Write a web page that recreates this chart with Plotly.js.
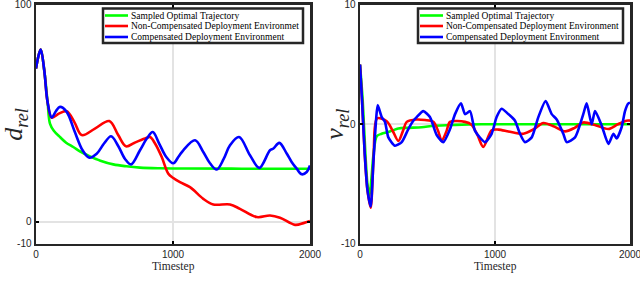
<!DOCTYPE html>
<html>
<head>
<meta charset="utf-8">
<script src="https://cdn.plot.ly/plotly-3.0.1.min.js"></script>
<style>html,body{margin:0;padding:0;background:#fff;}#chart{width:640px;height:290px;}</style>
</head>
<body>
<div id="chart"></div>
<script>
// ---------- Data: left panel (d_rel) ----------
const dOptT = [0,20,35,60,85,102,130,175,220,272,330,394,470,564,660,759,900,1100,1500,2000];
const dOptV = [70.7,77,79.5,70,55,45.3,42,39.1,36.5,34.5,32.2,30.2,28.2,26.5,25.6,25,24.7,24.6,24.5,24.5];

const dNonT = [0,20,35,60,85,115,170,224,280,334,430,535,600,657,720,796,832,870,917,966,1002,1051,1124,1221,1294,1416,1489,1611,1708,1781,1891,1952,2000];
const dNonV = [70.7,77,79.5,70,55,48,50,51,46,40,43,46.5,40,34.8,36.5,38.4,39.1,36,30,22.2,20.2,18.3,16,10.6,8,8,6,2.2,2.9,1.9,-1.4,-0.6,0.4];

const dCompT = [0,20,35,60,85,115,145,175,224,280,340,389,443,495,548,600,650,694,759,810,852,900,950,1002,1040,1075,1161,1221,1270,1319,1370,1416,1482,1562,1630,1708,1733,1776,1830,1866,1903,1940,1976,2000];
const dCompV = [70.7,77,79.5,70,55,48.1,51,53,50.7,42,33,29.6,31.4,36,39.5,35,29,26.5,33,38.5,41.4,36,30,27,30,33,37.6,32.2,27,24.1,29,35.3,39.1,30.7,24.9,33,33.8,36.4,31.5,27.6,24.5,21.9,23,26];

// ---------- Data: right panel (v_rel) ----------
const vOptT = [0,20,40,55,70,85,100,124,160,210,284,360,457,550,704,900,1200,2000];
const vOptV = [5,2,-2.5,-5,-6,-4.5,-2.5,-1.0,-0.8,-0.65,-0.35,-0.3,-0.25,-0.12,-0.05,0,0,0];

const vNonT = [0,15,35,55,79,100,128,198,240,284,320,346,420,481,543,580,605,640,667,778,827,870,913,975,1025,1100,1210,1290,1358,1440,1519,1590,1654,1750,1840,1910,1975,2000];
const vNonV = [5,2,-2.5,-5.5,-7,-3,0.5,0.25,-0.5,-1.4,-0.5,0.2,0.4,0.35,0.2,-0.6,-1.4,-0.6,0.2,0.2,-0.05,-0.9,-1.9,-0.5,-0.45,-0.6,-0.8,-0.4,0.1,-0.2,-0.6,-0.3,0.15,-0.1,-0.4,0,0.3,0.3];

const vCompT = [0,15,35,55,79,100,120,131,161,185,210,259,309,358,395,420,469,518,568,617,667,704,748,778,815,852,926,975,1012,1049,1099,1148,1185,1222,1272,1321,1375,1420,1457,1506,1531,1593,1654,1679,1716,1741,1790,1840,1877,1901,1938,1963,1988,2000];
const vCompV = [5,2,-2.5,-5.5,-6.9,-3,0.5,1.6,0.6,0.2,-1.1,-1.8,-1.5,-0.4,0.3,0.6,1.1,0.6,-0.9,-1.5,-0.4,0.85,1.75,0.85,1.1,-0.55,-1.5,-0.8,0.6,1.3,0.85,0.3,-0.8,-1.5,-1.1,0.6,1.95,0.85,0.4,-0.8,-1.5,-1.1,0.85,1.75,0.0,1.1,-0.1,-1.65,-0.8,-1.2,-0.25,1.1,1.75,1.8];

// ---------- Labels ----------
const xTicks = [0, 1000, 2000];
const dTicks = [-10, 0, 100];
const vTicks = [-10, 0, 10];
const namesLeft = ['Sampled Optimal Trajectory', 'Non-Compensated Deployment Environmet', 'Compensated Deployment Environment'];
const namesRight = ['Sampled Optimal Trajectory', 'Non-Compensated Deployment Environment', 'Compensated Deployment Environment'];
const colors = ['#00ff00', '#ff0000', '#0000ff'];
const xTitle = 'Timestep';

// ---------- Traces ----------
function tr(x, y, name, color, xa, ya, smooth) {
  return {x: x, y: y, name: name, type: 'scatter', mode: 'lines', xaxis: xa, yaxis: ya,
          line: {color: color, width: 2.6, shape: 'spline', smoothing: smooth}, showlegend: false, hoverinfo: 'skip'};
}
const data = [
  tr(dOptT, dOptV, namesLeft[0], colors[0], 'x', 'y', 1),
  tr(dNonT, dNonV, namesLeft[1], colors[1], 'x', 'y', 1),
  tr(dCompT, dCompV, namesLeft[2], colors[2], 'x', 'y', 1),
  tr(vOptT, vOptV, namesRight[0], colors[0], 'x2', 'y2', 0.8),
  tr(vNonT, vNonV, namesRight[1], colors[1], 'x2', 'y2', 0.8),
  tr(vCompT, vCompV, namesRight[2], colors[2], 'x2', 'y2', 0.6)
];

const axisCol = '#262626';
const serif = 'Liberation Serif, DejaVu Serif, serif';
const tickFont = {family: 'Liberation Sans, Arial, sans-serif', size: 10, color: axisCol};
function xax(domain, anchor) {
  return {domain: domain, anchor: anchor, range: [0, 2000], tickvals: xTicks, ticktext: xTicks.map(String),
    showline: true, linecolor: axisCol, linewidth: 2.5, mirror: 'ticks', ticks: 'inside', ticklen: 3, tickwidth: 2, tickcolor: '#000',
    showgrid: true, gridcolor: '#e3e3e3', gridwidth: 2, zeroline: false, tickfont: tickFont, ticklabeloverflow: 'allow'};
}
function yax(domain, anchor, range, ticks) {
  return {domain: domain, anchor: anchor, range: range, tickvals: ticks, ticktext: ticks.map(String),
    showline: true, linecolor: axisCol, linewidth: 2.5, mirror: 'ticks', ticks: 'inside', ticklen: 3, tickwidth: 2, tickcolor: '#000',
    showgrid: true, gridcolor: '#e3e3e3', gridwidth: 2, zeroline: false, tickfont: tickFont, ticklabeloverflow: 'allow'};
}
const yDom = [0.1603, 0.9828];
const layout = {
  width: 640, height: 290, margin: {l: 0, r: 0, t: 0, b: 0},
  paper_bgcolor: '#fff', plot_bgcolor: '#fff', showlegend: false,
  xaxis: xax([36/640, 310/640], 'y'),
  yaxis: yax(yDom, 'x', [-10, 100], dTicks),
  xaxis2: xax([360/640, 630/640], 'y2'),
  yaxis2: yax(yDom, 'x2', [-10, 10], vTicks),
  shapes: [], annotations: []
};

const P = v => v / 640, Q = v => 1 - v / 290;

// axis titles
layout.annotations.push({xref: 'paper', yref: 'paper', x: P(15), y: 0.57, textangle: -90, showarrow: false,
  text: '<i>d</i><sub><i>rel</i></sub>', font: {family: serif, size: 26, color: axisCol}, xanchor: 'center', yanchor: 'middle'});
layout.annotations.push({xref: 'paper', yref: 'paper', x: P(336), y: 0.57, textangle: -90, showarrow: false,
  text: '<i>v</i><sub><i>rel</i></sub>', font: {family: serif, size: 26, color: axisCol}, xanchor: 'center', yanchor: 'middle'});
layout.annotations.push({xref: 'paper', yref: 'paper', x: P(173), y: Q(258), showarrow: false, text: xTitle,
  font: {family: serif, size: 11.5, color: axisCol}, xanchor: 'center', yanchor: 'top'});
layout.annotations.push({xref: 'paper', yref: 'paper', x: P(495), y: Q(258), showarrow: false, text: xTitle,
  font: {family: serif, size: 11.5, color: axisCol}, xanchor: 'center', yanchor: 'top'});

// legend boxes (drawn in paper pixels)
function legendBox(x0, x1, names) {
  layout.shapes.push({type: 'rect', xref: 'paper', yref: 'paper', x0: P(x0), x1: P(x1), y0: Q(43), y1: Q(8.5),
    line: {color: axisCol, width: 2.5}, fillcolor: '#fff', layer: 'above'});
  const rows = [15.5, 26, 37];
  names.forEach((n, i) => {
    layout.shapes.push({type: 'line', xref: 'paper', yref: 'paper', x0: P(x0 + 2), x1: P(x0 + 25), y0: Q(rows[i]), y1: Q(rows[i]),
      line: {color: colors[i], width: 2.6}, layer: 'above'});
    layout.annotations.push({xref: 'paper', yref: 'paper', x: P(x0 + 26), y: Q(rows[i]), xanchor: 'left', yanchor: 'middle',
      showarrow: false, text: n, font: {family: serif, size: 9.5, color: '#000'}});
  });
}
legendBox(103, 303, namesLeft);
legendBox(418, 623, namesRight);

Plotly.newPlot('chart', data, layout, {staticPlot: true, displayModeBar: false});
</script>
</body>
</html>
